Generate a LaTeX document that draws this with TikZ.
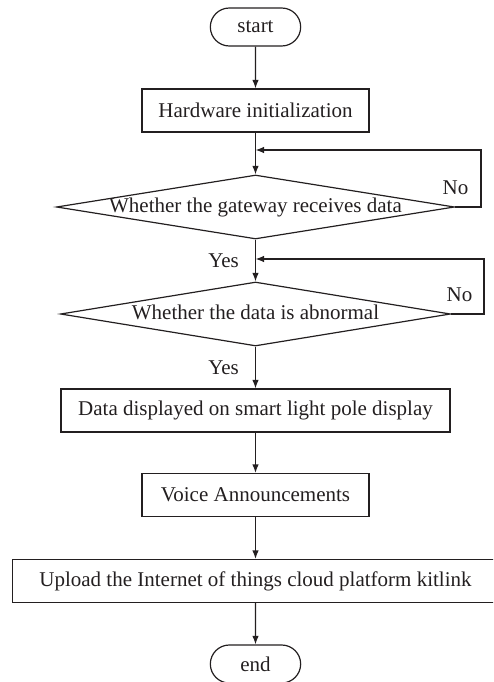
\documentclass[tikz,border=0pt]{standalone}
\usepackage{fontspec}
\setmainfont{Liberation Serif}
\usetikzlibrary{shapes.geometric,shapes.misc,positioning,arrows.meta}
\definecolor{ink}{HTML}{231F20}
\begin{document}
\begin{tikzpicture}[x=1pt,y=-1pt,>={Latex[length=8.5pt,width=6.5pt]},color=ink,line width=1.2pt]
\def\axis{255.5}
\def\boxh{43pt}
\tikzset{base/.style={draw,font=\fontsize{21}{24}\selectfont},
term/.style={base,rounded rectangle,minimum width=97pt,minimum height=38pt},
proc/.style={base,minimum height=\boxh,inner sep=0pt},
dec/.style={base,diamond,aspect=6.2,minimum height=64pt,inner sep=0pt,text height=10pt,text depth=0pt},
lbl/.style={font=\fontsize{21}{24}\selectfont,inner sep=3pt}}
\useasboundingbox (0,0) rectangle (493,682);
\clip (0,0) rectangle (493,682);
\node[term] at (\axis,27) (ST) {start};
\node[proc,minimum width=227pt] at (\axis,110.5) (HW) {Hardware initialization};
\node[dec,minimum width=398pt] at (\axis,207) (GW) {Whether the gateway receives data};
\node[dec,minimum width=390pt] at (\axis,314) (AB) {Whether the data is abnormal};
\node[proc,minimum width=389pt] at (\axis,410.5) (DSP) {Data displayed on smart light pole display};
\node[proc,minimum width=227pt] at (\axis,495) (VOI) {Voice Announcements};
\node[proc,minimum width=486pt] at (\axis,581) (UP) {Upload the Internet of things cloud platform kitlink};
\node[term] at (\axis,664) (EN) {end};
% feedback loops
\coordinate (J1) at (\axis,150);
\coordinate (R1) at (481,150);
\coordinate (J2) at (\axis,259);
\coordinate (R2) at (484,259);
\draw[->] (ST) -- (HW);
\draw[->] (HW) -- (GW);
\draw[->] (GW.east) -| node[lbl,above left=8.5pt and 9pt]{No} (R1) -- (J1);
\draw[->] (GW) -- node[lbl,left=13pt]{Yes} (AB);
\draw[->] (AB.east) -| node[lbl,above left=8.5pt and 8pt]{No} (R2) -- (J2);
\draw[->] (AB) -- node[lbl,left=13pt]{Yes} (DSP);
\draw[->] (DSP) -- (VOI);
\draw[->] (VOI) -- (UP);
\draw[->] (UP) -- (EN);
\end{tikzpicture}
\end{document}
